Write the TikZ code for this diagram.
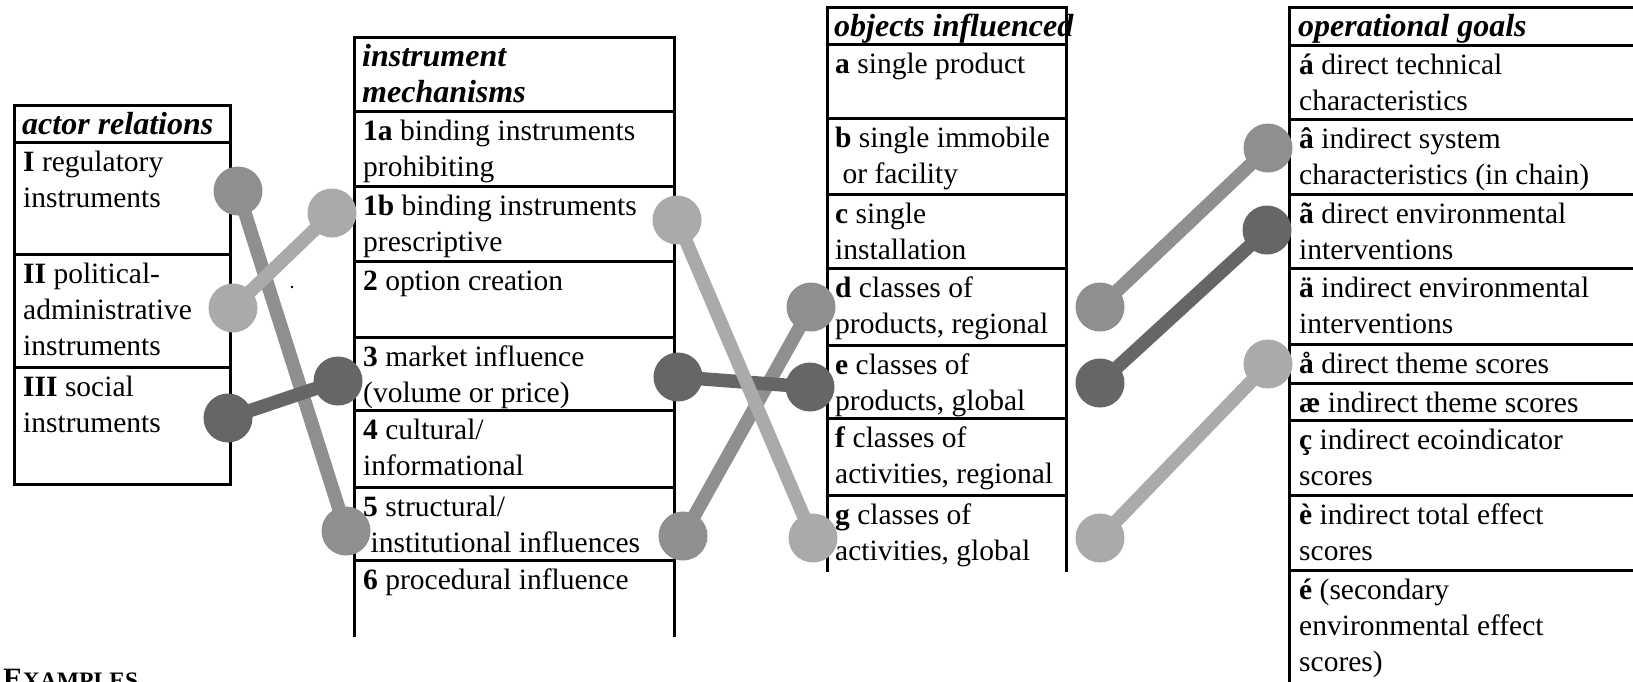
\documentclass[tikz,border=0pt]{standalone}
\usepackage{fontspec}
\setmainfont{Liberation Serif}
\definecolor{cmid}{HTML}{8F8F8F}
\definecolor{clight}{HTML}{AAAAAA}
\definecolor{cdark}{HTML}{666666}
\pgfdeclarelayer{bg}
\pgfsetlayers{bg,main}
\begin{document}
\begin{tikzpicture}[x=1pt,y=-1pt,
  frame/.style={line width=3pt, line cap=rect},
  cell/.style={anchor=north west, align=left, inner sep=0pt, font=\fontsize{29.5}{36}\selectfont},
  head/.style={cell, font=\fontsize{32}{36}\selectfont\bfseries\itshape},
  link/.style={line width=13.5pt, draw=#1},
  ball/.style={circle, minimum size=49pt, inner sep=0pt, fill=#1},
 ]
\useasboundingbox (0,0) rectangle (1633,681);

% ---- actor relations
\draw[frame] (14,105) rectangle (230,484);
\foreach \y in {142,254,367} \draw[frame] (14,\y) -- (230,\y);
\node[head] (ah) at (22,109) {\strut actor relations};
\node[cell] (a1) at (23,146) {\strut\textbf{I} regulatory\\instruments};
\node[cell] (a2) at (23,258) {\strut\textbf{II} political-\\administrative\\instruments};
\node[cell] (a3) at (23,371) {\strut\textbf{III} social\\instruments};

% ---- instrument mechanisms
\draw[frame] (354,635) -- (354,37) -- (674,37) -- (674,635);
\foreach \y in {111,186,261,337,410,487,560} \draw[frame] (354,\y) -- (674,\y);
\node[head] (mh) at (362,41) {\strut instrument\\mechanisms};
\node[cell] (m1a) at (363,115) {\strut\textbf{1a} binding instruments\\prohibiting};
\node[cell] (m1b) at (363,190) {\strut\textbf{1b} binding instruments\\prescriptive};
\node[cell] (m2) at (363,265) {\strut\textbf{2} option creation};
\node[cell] (m3) at (363,341) {\strut\textbf{3} market influence\\(volume or price)};
\node[cell] (m4) at (363,414) {\strut\textbf{4} cultural/\\informational};
\node[cell] (m5) at (363,491) {\strut\textbf{5} structural/\\\ institutional influences};
\node[cell] (m6) at (363,564) {\strut\textbf{6} procedural influence};

% ---- objects influenced
\draw[frame] (827,570) -- (827,7) -- (1066,7) -- (1066,570);
\foreach \y in {44,118,194,268,345,418,495} \draw[frame] (827,\y) -- (1066,\y);
\node[head] (oh) at (834,11) {\strut objects influenced};
\node[cell] (oa) at (835,48) {\strut\textbf{a} single product};
\node[cell] (ob) at (835,122) {\strut\textbf{b} single immobile\\\ or facility};
\node[cell] (oc) at (835,198) {\strut\textbf{c} single\\installation};
\node[cell] (od) at (835,272) {\strut\textbf{d} classes of\\products, regional};
\node[cell] (oe) at (835,349) {\strut\textbf{e} classes of\\products, global};
\node[cell] (of) at (835,422) {\strut\textbf{f} classes of\\activities, regional};
\node[cell] (og) at (835,499) {\strut\textbf{g} classes of\\activities, global};

% ---- operational goals
\draw[frame] (1289,690) -- (1289,7) -- (1640,7);
\foreach \y in {45,119,194,268,344,383,420,495,570} \draw[frame] (1289,\y) -- (1640,\y);
\node[head] (gh) at (1298,11) {\strut operational goals};
\node[cell] (g1) at (1299,49) {\strut\textbf{á} direct technical\\characteristics};
\node[cell] (g2) at (1299,123) {\strut\textbf{â} indirect system\\characteristics (in chain)};
\node[cell] (g3) at (1299,198) {\strut\textbf{ã} direct environmental\\interventions};
\node[cell] (g4) at (1299,272) {\strut\textbf{ä} indirect environmental\\interventions};
\node[cell] (g5) at (1299,348) {\strut\textbf{å} direct theme scores};
\node[cell] (g6) at (1299,387) {\strut\textbf{æ} indirect theme scores};
\node[cell] (g7) at (1299,424) {\strut\textbf{ç} indirect ecoindicator\\scores};
\node[cell] (g8) at (1299,499) {\strut\textbf{è} indirect total effect\\scores};
\node[cell] (g9) at (1299,574) {\strut\textbf{é} (secondary\\environmental effect\\scores)};

% ---- examples caption (cut by the page edge, as in the original)
\node[anchor=base west, inner sep=0pt, font=\fontsize{29.5}{36}\selectfont\bfseries] (ex) at (3,688) {E{\fontsize{23.6}{28}\selectfont XAMPLES}};

% ---- stray dot
\fill (292,287) circle (1.3pt);

% ---- link ends
\node[ball=cmid]   (pI)   at (238,191) {};
\node[ball=clight] (pII)  at (233,308) {};
\node[ball=cdark]  (pIII) at (228,418) {};
\node[ball=cmid]   (q5L)  at (346,531) {};
\node[ball=clight] (q1bL) at (332,213) {};
\node[ball=cdark]  (q3L)  at (338,381) {};
\node[ball=clight] (q1bR) at (677,220) {};
\node[ball=cmid]   (q5R)  at (683,536) {};
\node[ball=cdark]  (q3R)  at (678,377) {};
\node[ball=clight] (rgL)  at (813,538) {};
\node[ball=cmid]   (rdL)  at (811,307) {};
\node[ball=cdark]  (reL)  at (810,387) {};
\node[ball=cmid]   (rdR)  at (1100,307) {};
\node[ball=cdark]  (reR)  at (1100,383) {};
\node[ball=clight] (rgR)  at (1100,538) {};
\node[ball=cmid]   (sb)   at (1268,148) {};
\node[ball=cdark]  (sc)   at (1267,230) {};
\node[ball=clight] (se)   at (1268,364) {};

\begin{pgfonlayer}{bg}
\draw[link=cmid] (pI.center) -- (q5L.center);
\draw[link=cmid] (q5R.center) -- (rdL.center);
\draw[link=cmid] (rdR.center) -- (sb.center);
\draw[link=cdark] (pIII.center) -- (q3L.center);
\draw[link=cdark] (q3R.center) -- (reL.center);
\draw[link=cdark] (reR.center) -- (sc.center);
\draw[link=clight] (pII.center) -- (q1bL.center);
\draw[link=clight] (q1bR.center) -- (rgL.center);
\draw[link=clight] (rgR.center) -- (se.center);
\end{pgfonlayer}
\end{tikzpicture}
\end{document}
